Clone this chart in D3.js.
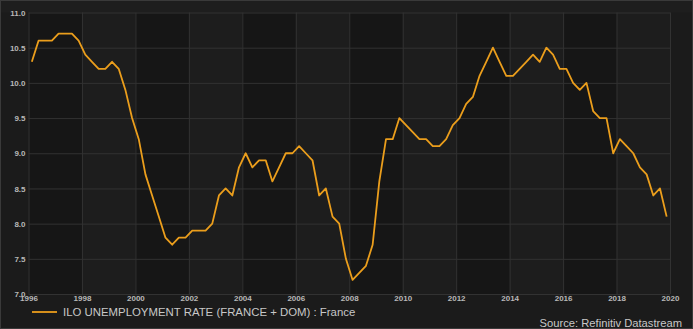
<!DOCTYPE html>
<html>
<head>
<meta charset="utf-8">
<script src="https://cdn.jsdelivr.net/npm/d3@7"></script>
<style>
  html, body { margin: 0; padding: 0; background: #1b1b1b; }
  svg { display: block; }
  .tick text { fill: #b8b8b8; font-family: "Liberation Sans", Arial, sans-serif; font-size: 8px; font-weight: bold; }
  .grid line { stroke: #323232; stroke-width: 1; }
  .grid path { display: none; }
</style>
</head>
<body>
<div id="chart"></div>
<script>
// quarterly ILO unemployment rate, France + DOM, 1996 Q1 .. 2019 Q4
const startYear = 1996;
const rates = [
  10.3, 10.6, 10.6, 10.6,
  10.7, 10.7, 10.7, 10.6,
  10.4, 10.3, 10.2, 10.2,
  10.3, 10.2, 9.9, 9.5,
  9.2, 8.7, 8.4, 8.1,
  7.8, 7.7, 7.8, 7.8,
  7.9, 7.9, 7.9, 8.0,
  8.4, 8.5, 8.4, 8.8,
  9.0, 8.8, 8.9, 8.9,
  8.6, 8.8, 9.0, 9.0,
  9.1, 9.0, 8.9, 8.4,
  8.5, 8.1, 8.0, 7.5,
  7.2, 7.3, 7.4, 7.7,
  8.6, 9.2, 9.2, 9.5,
  9.4, 9.3, 9.2, 9.2,
  9.1, 9.1, 9.2, 9.4,
  9.5, 9.7, 9.8, 10.1,
  10.3, 10.5, 10.3, 10.1,
  10.1, 10.2, 10.3, 10.4,
  10.3, 10.5, 10.4, 10.2,
  10.2, 10.0, 9.9, 10.0,
  9.6, 9.5, 9.5, 9.0,
  9.2, 9.1, 9.0, 8.8,
  8.7, 8.4, 8.5, 8.1
];
const xTicks = [1996, 1998, 2000, 2002, 2004, 2006, 2008, 2010, 2012, 2014, 2016, 2018, 2020];
const yTicks = [7.0, 7.5, 8.0, 8.5, 9.0, 9.5, 10.0, 10.5, 11.0];
const seriesLabel = "ILO UNEMPLOYMENT RATE (FRANCE + DOM) : France";
const sourceLabel = "Source: Refinitiv Datastream";

const data = rates.map((v, i) => ({x: startYear + Math.floor(i / 4) + (i % 4 + 0.5) / 4, y: v}));

const W = 693, H = 329;
const margin = {top: 12.5, right: 23, bottom: 35, left: 28.5};
const width = W - margin.left - margin.right;
const height = H - margin.top - margin.bottom;

const svg = d3.select("#chart").append("svg")
  .attr("width", W)
  .attr("height", H);

// outer frame
svg.append("rect").attr("x", 0.5).attr("y", 0.5).attr("width", W - 1).attr("height", H - 1)
  .attr("fill", "#1b1b1b").attr("stroke", "#3a3a3a");
svg.append("rect").attr("x", 1).attr("y", 1).attr("width", W - 2).attr("height", margin.top - 1)
  .attr("fill", "#1e1e1e");

const g = svg.append("g")
  .attr("transform", "translate(" + margin.left + "," + margin.top + ")");

const xScale = d3.scaleLinear().domain([1996, 2020]).range([0, width]);
const yScale = d3.scaleLinear().domain([7, 11]).range([height, 0]);

// alternating column bands
g.selectAll("rect.band")
  .data(xTicks.slice(0, -1))
  .enter().append("rect")
  .attr("class", "band")
  .attr("x", d => xScale(d))
  .attr("y", 0)
  .attr("width", d => xScale(d + 2) - xScale(d))
  .attr("height", height)
  .attr("fill", (d, i) => i % 2 ? "#1d1d1d" : "#161616");

// grid
g.append("g")
  .attr("class", "grid")
  .attr("transform", "translate(0," + height + ")")
  .call(d3.axisBottom(xScale).tickValues(xTicks).tickSize(-height).tickFormat(""));

g.append("g")
  .attr("class", "grid")
  .call(d3.axisLeft(yScale).tickValues(yTicks).tickSize(-width).tickFormat(""));

// axes labels
const xAxis = g.append("g")
  .attr("transform", "translate(0," + height + ")")
  .call(d3.axisBottom(xScale).tickValues(xTicks).tickSize(0).tickPadding(1).tickFormat(d3.format("d")));
xAxis.select(".domain").remove();

const yAxis = g.append("g")
  .call(d3.axisLeft(yScale).tickValues(yTicks).tickSize(0).tickPadding(3).tickFormat(d3.format(".1f")));
yAxis.select(".domain").remove();

// series line
const line = d3.line()
  .x(d => xScale(d.x))
  .y(d => yScale(d.y));

g.append("path")
  .datum(data)
  .attr("fill", "none")
  .attr("stroke", "#eb9e1c")
  .attr("stroke-width", 1.8)
  .attr("stroke-linejoin", "round")
  .attr("d", line);

// legend
svg.append("line")
  .attr("x1", 32).attr("x2", 57).attr("y1", 312).attr("y2", 312)
  .attr("stroke", "#eb9e1c").attr("stroke-width", 1.8);
svg.append("text")
  .attr("x", 63).attr("y", 316)
  .attr("fill", "#c8c8c8")
  .style("font-family", "'Liberation Sans', Arial, sans-serif")
  .style("font-size", "11.4px")
  .text(seriesLabel);

svg.append("text")
  .attr("x", 682).attr("y", 327)
  .attr("text-anchor", "end")
  .attr("fill", "#c8c8c8")
  .style("font-family", "'Liberation Sans', Arial, sans-serif")
  .style("font-size", "11.2px")
  .text(sourceLabel);
</script>
</body>
</html>
